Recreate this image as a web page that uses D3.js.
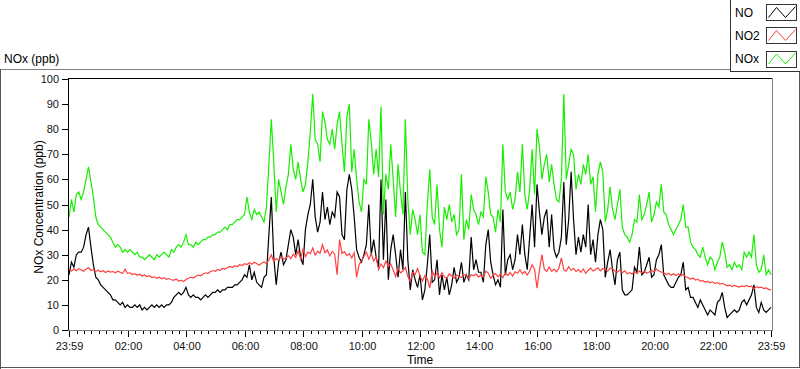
<!DOCTYPE html>
<html><head><meta charset="utf-8">
<script src="https://cdn.jsdelivr.net/npm/d3@7"></script>
<style>
html,body{margin:0;padding:0;background:#fff;}
svg{display:block;font-family:"Liberation Sans",Arial,sans-serif;}
</style></head><body>
<svg id="chart" width="800" height="369"></svg>
<script>
// ---------------- data ----------------
const startTime = "23:59";      // first sample (day 1)
const sampleMinutes = 5;        // spacing between samples
const seriesNames = ["NO", "NO2", "NOx"];
const yTickValues = [0, 10, 20, 30, 40, 50, 60, 70, 80, 90, 100];
const xTickLabels = ["23:59", "02:00", "04:00", "06:00", "08:00", "10:00", "12:00",
                     "14:00", "16:00", "18:00", "20:00", "22:00", "23:59"];

const noValues = [
 22,27,25,30,31,31,33,38,41,33,
 26,21,20,18,17,16,15,14,12,12,
 11,10,11,9,10,9,9,10,9,10,
 8,9,8,9,10,9,10,9,10,9,
 10,10,11,13,14,15,14,15,17,14,
 13,14,13,13,12,13,14,13,14,15,
 15,16,15,16,16,17,17,17,18,18,
 19,20,22,21,26,20,23,19,18,17,
 21,22,38,53,29,18,27,31,26,28,
 34,40,37,30,36,29,26,40,46,50,
 60,45,39,43,55,44,49,42,47,45,
 55,53,38,36,56,62,56,45,32,29,
 27,30,34,50,30,36,29,25,60,28,
 52,20,32,38,30,21,32,24,55,28,
 16,24,20,17,22,12,16,26,38,19,
 20,28,14,22,16,21,14,18,25,19,
 21,27,19,22,20,37,24,28,23,23,
 19,34,40,27,22,18,20,17,48,22,
 28,30,24,28,38,30,42,30,24,37,
 50,33,58,47,38,45,48,33,46,32,
 29,31,37,59,34,44,63,44,30,37,
 31,38,33,50,30,36,27,38,44,40,
 21,27,32,24,18,28,31,16,14,14,
 15,16,25,23,33,22,23,26,29,21,
 22,28,30,34,22,20,18,17,17,19,
 21,22,27,16,17,13,13,11,9,12,
 10,8,6,8,7,6,11,12,15,9,
 5,6,7,8,7,8,11,12,10,12,
 14,18,9,7,11,8,7,8,9
];

const no2Values = [
 24.5,23.5,24.2,23.6,24.4,24,23.4,24.3,24.8,23.7,
 24,23.4,23.8,23.2,23.6,22.9,23.5,23.1,23.3,22.8,
 23.4,23,22.5,24.2,22.6,22.8,22.1,22.4,21.8,22.2,
 21.5,21.9,21.3,21.6,20.9,21.2,20.6,21,20.4,20.8,
 20.2,20.5,20,19.8,20.3,19.5,19.8,19.3,20.1,20.6,
 21,20.7,21.4,21.9,21.6,22.3,22.8,22.5,23.3,23.7,
 23.4,24.1,23.8,24.5,24.3,24.9,25.3,24.9,25.6,25.2,
 26,25.7,26.4,26.1,26.8,26.2,27,26.5,25.8,26.6,
 27.1,26.4,28,30,27.3,28.5,27.8,29.2,28.3,28.7,
 29.6,28.4,30.2,29,31.5,28.2,32.1,29.3,31,30.4,
 32.7,29.8,31.4,30.6,34,30.8,31.9,29.5,31.3,30.2,
 22,36,30.5,31.2,29.6,30.4,28.7,30.8,21,26,
 27.6,29.3,31,28.2,30.4,27.5,29.1,24,26.3,24.8,
 27.5,25.4,26.3,24,21.3,24.6,22.8,23.5,24.9,21.4,
 19.4,23,22.1,24.5,21.6,19.5,21.7,20.5,16.7,23.6,
 21.3,22.6,20.8,22.9,21.1,20.6,22.4,21.5,20.7,21.9,
 21.3,20.9,22.1,21.7,20.5,22,21.6,22.3,21.1,21.9,
 21,23.4,22.7,20.6,21.8,22.5,21.2,22.3,20.9,22.6,
 21.7,22.9,21.5,23.2,22.6,24,22.4,23.3,21.9,23.5,
 26,24.1,16.7,23.8,30,24.2,23.3,25.1,23.4,24.3,
 23.2,24.6,28.7,24,23.4,25.2,23.8,24.5,23.3,24.1,
 23,24.3,22.6,23.8,24.7,23.5,24.1,24.8,23.6,24.5,
 24.2,23.4,24.6,24.4,23.5,23.1,23.9,22.8,23.6,22.4,
 22.8,22.3,23.3,22.5,23.6,22.7,23.4,22.6,23.1,23.8,
 23.2,24.3,23.5,23.1,22.7,22.1,22.6,21.8,22.4,21.7,
 22.3,21.6,22.1,21.2,20.8,20.3,20.7,19.9,20.2,19.5,
 19.7,19.1,19.4,18.8,19.2,18.5,18.9,18.3,18.6,18.1,
 17.6,17.9,17.3,17.8,17.4,17.1,17.6,17.3,17.8,17.2,
 17.5,16.4,17.3,16.9,17.1,16.5,16.8,16.2,16
];

const noxValues = [
 45,52,47,54,55,52,55,60,65,59,
 53,45,42,41,40,39,38,37,35,33,
 34,33,31,32,31,32,31,30,31,29,
 29,28,29,30,29,28,30,29,30,31,
 30,29,32,31,33,34,33,35,38,34,
 34,33,35,34,35,36,36,37,37,38,
 38,39,39,40,41,40,42,42,43,44,
 44,45,46,53,47,44,48,46,47,45,
 43,49,66,84,67,47,60,55,50,57,
 62,74,64,60,67,60,55,58,67,79,
 94,76,74,67,87,83,76,74,80,72,
 82,87,74,63,85,90,63,72,60,51,
 47,60,58,84,75,62,72,61,89,46,
 62,56,74,60,45,66,55,46,84,52,
 38,48,44,38,46,31,30,50,64,45,
 42,58,40,33,49,44,50,43,46,38,
 40,62,36,44,40,54,48,46,42,47,
 45,61,55,46,45,39,48,43,74,55,
 52,55,48,52,63,55,74,54,48,56,
 72,54,80,73,60,66,70,59,66,58,
 52,51,60,94,60,66,72,70,56,62,
 58,66,62,70,58,61,47,62,67,63,
 43,48,57,48,44,50,56,41,38,37,
 35,38,44,43,54,44,46,50,55,43,
 46,51,49,58,47,46,42,40,38,40,
 42,44,50,41,41,35,33,32,30,29,
 33,29,26,29,28,24,27,29,35,31,
 25,26,24,27,25,26,24,31,29,31,
 29,38,26,23,24,30,22,24,22
];

// ---------------- styles / layout ----------------
const colors = {"NO": "#000000", "NO2": "#ff4040", "NOx": "#17ee00"};
const plot = {left: 68, right: 772, top: 78, bottom: 330};

const svg = d3.select("#chart");

// time helpers
const parseHM = d3.timeParse("%Y-%m-%d %H:%M");
const t0 = parseHM("2000-01-01 " + startTime);
const times = noValues.map((_, i) => d3.timeMinute.offset(t0, i * sampleMinutes));
const tickDates = [];
xTickLabels.forEach((lab, i) => {
  let d = parseHM("2000-01-01 " + lab);
  while (tickDates.length && d <= tickDates[tickDates.length - 1]) d = d3.timeDay.offset(d, 1);
  tickDates.push(d);
});

const x = d3.scaleTime()
  .domain([tickDates[0], tickDates[tickDates.length - 1]])
  .range([69, 771]);
const y = d3.scaleLinear().domain([0, 100]).range([plot.bottom, 79]);

// ---------------- frame ----------------
const frame = svg.append("g").attr("shape-rendering", "crispEdges");
frame.append("line").attr("x1", 0).attr("x2", 730).attr("y1", 69.5).attr("y2", 69.5).attr("stroke", "#808080");
frame.append("line").attr("x1", 0.5).attr("x2", 0.5).attr("y1", 69).attr("y2", 369).attr("stroke", "#555");
frame.append("line").attr("x1", 0).attr("x2", 800).attr("y1", 367.5).attr("y2", 367.5).attr("stroke", "#555");
frame.append("line").attr("x1", 799.5).attr("x2", 799.5).attr("y1", 72).attr("y2", 368).attr("stroke", "#555");

svg.append("text").attr("x", 4).attr("y", 63).attr("font-size", 12).attr("fill", "#000").text("NOx (ppb)");

// plot area border
const pa = svg.append("g").attr("shape-rendering", "crispEdges");
pa.append("rect").attr("x", plot.left).attr("y", plot.top).attr("width", plot.right - plot.left).attr("height", plot.bottom - plot.top).attr("fill", "#fff");
pa.append("line").attr("x1", plot.left).attr("x2", plot.right).attr("y1", plot.top + 0.5).attr("y2", plot.top + 0.5).attr("stroke", "#000");
pa.append("line").attr("x1", plot.left + 0.5).attr("x2", plot.left + 0.5).attr("y1", plot.top).attr("y2", plot.bottom + 1).attr("stroke", "#000");
pa.append("line").attr("x1", plot.right + 0.5).attr("x2", plot.right + 0.5).attr("y1", plot.top).attr("y2", plot.bottom + 1).attr("stroke", "#808080");
pa.append("line").attr("x1", plot.left).attr("x2", plot.right + 1).attr("y1", plot.bottom + 0.5).attr("y2", plot.bottom + 0.5).attr("stroke", "#808080");

// ---------------- axes ----------------
const yAxis = d3.axisLeft(y).tickValues(yTickValues).tickSize(6).tickPadding(3).tickFormat(d3.format("d"));
const gy = svg.append("g").attr("transform", `translate(${plot.left},0)`).call(yAxis);
gy.select(".domain").remove();
gy.selectAll(".tick line").attr("stroke", "#000").attr("shape-rendering", "crispEdges");
gy.selectAll(".tick text").attr("font-size", 11).attr("fill", "#111").attr("font-family", "Liberation Sans, Arial, sans-serif");

const minorTicks = d3.timeMinute.every(15).range(tickDates[0], tickDates[tickDates.length - 1])
  .filter(d => !tickDates.some(t => Math.abs(t - d) < 60000 * 2));
const xMinor = d3.axisBottom(x).tickValues(minorTicks).tickSize(3).tickFormat("");
const gxm = svg.append("g").attr("transform", `translate(0,${plot.bottom + 1})`).call(xMinor);
gxm.select(".domain").remove();
gxm.selectAll(".tick line").attr("stroke", "#000").attr("shape-rendering", "crispEdges");

const xAxis = d3.axisBottom(x).tickValues(tickDates).tickSize(6).tickPadding(5)
  .tickFormat((d, i) => xTickLabels[i]);
const gx = svg.append("g").attr("transform", `translate(0,${plot.bottom + 1})`).call(xAxis);
gx.select(".domain").remove();
gx.selectAll(".tick line").attr("stroke", "#000").attr("shape-rendering", "crispEdges");
gx.selectAll(".tick text").attr("font-size", 11).attr("fill", "#111").attr("font-family", "Liberation Sans, Arial, sans-serif");

svg.append("text").attr("transform", "translate(43,207) rotate(-90)").attr("text-anchor", "middle")
  .attr("font-size", 12).attr("fill", "#000").text("NOx Concentration (ppb)");
svg.append("text").attr("x", 420).attr("y", 364).attr("text-anchor", "middle")
  .attr("font-size", 12).attr("fill", "#000").text("Time");

// ---------------- series ----------------
const seriesData = {"NO": noValues, "NO2": no2Values, "NOx": noxValues};
const line = d3.line().x((d, i) => x(times[i])).y(d => y(d));
svg.append("defs").append("clipPath").attr("id", "clip").append("rect")
  .attr("x", plot.left + 1).attr("y", plot.top + 1).attr("width", plot.right - plot.left - 1).attr("height", plot.bottom - plot.top);
const gl = svg.append("g").attr("clip-path", "url(#clip)");
seriesNames.forEach(name => {
  gl.append("path").datum(seriesData[name]).attr("d", line)
    .attr("fill", "none").attr("stroke", colors[name]).attr("stroke-width", 1.2)
    .attr("stroke-linejoin", "miter");
});

// ---------------- legend ----------------
const lg = svg.append("g");
lg.append("rect").attr("x", 730.5).attr("y", -1).attr("width", 70).attr("height", 72.5)
  .attr("fill", "#fff").attr("stroke", "#333").attr("shape-rendering", "crispEdges");
const swY = [4.5, 27.5, 51];
const zig = [[2, 13], [10, 3], [19, 13], [29, 2]];
seriesNames.forEach((name, i) => {
  lg.append("text").attr("x", 735).attr("y", swY[i] + 12).attr("font-size", 12).attr("fill", "#000").text(name);
  lg.append("rect").attr("x", 766.5).attr("y", swY[i]).attr("width", 30).attr("height", 16)
    .attr("fill", "#fff").attr("stroke", "#333").attr("shape-rendering", "crispEdges");
  lg.append("path").attr("d", d3.line()(zig.map(p => [766.5 + p[0], swY[i] + p[1]])))
    .attr("fill", "none").attr("stroke", colors[name]).attr("stroke-width", 1);
});
</script>
</body></html>
